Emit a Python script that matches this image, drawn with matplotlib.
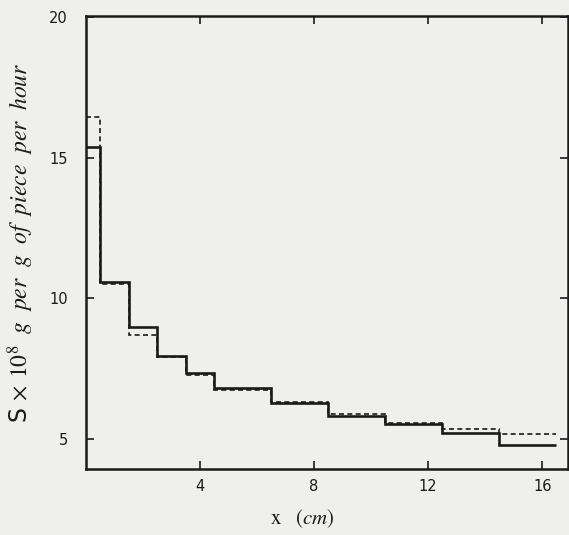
import matplotlib
matplotlib.use("Agg")
import matplotlib.pyplot as plt

# ==========================================================================
#  Data
# ==========================================================================

edges = [0, 0.5, 1.5, 2.5, 3.5, 4.5, 6.5, 8.5, 10.5, 12.5, 14.5, 16.5]
solid = [15.4, 10.6, 9.0, 7.95, 7.35, 6.8, 6.27, 5.83, 5.52, 5.22, 4.8]
dashed = [16.45, 10.5, 8.7, 7.9, 7.28, 6.73, 6.3, 5.88, 5.56, 5.35, 5.18]

xticks = [4, 8, 12, 16]
yticks = [5, 10, 15, 20]

plt.rcParams["mathtext.fontset"] = "stix"
plt.rcParams["font.family"] = ["DejaVu Sans"]

BG = "#efefed"
INK = "#1a1a1a"

fig = plt.figure(figsize=(5.69, 5.35), dpi=100, facecolor=BG)
ax = fig.add_axes([0.151, 0.1234, 0.847, 0.8466])
ax.set_facecolor(BG)

ax.stairs(solid, edges, color=INK, lw=1.9, baseline=None)
ax.stairs(dashed, edges, color=INK, lw=1.2, ls=(0, (3, 2)), baseline=None)

ax.set_xlim(0, 16.9)
ax.set_ylim(3.93, 20.05)
ax.set_xticks(xticks)
ax.set_yticks(yticks)

ax.tick_params(direction="in", length=6, width=1.2, top=True, right=True,
               labelsize=10.5, colors=INK)
ax.tick_params(axis="x", pad=7)
ax.tick_params(axis="y", pad=13)
for s in ax.spines.values():
    s.set_linewidth(1.8)
    s.set_color(INK)

ylab = (r"S $\times$ $\mathit{10^{8}\ \ g\ \ per\ \ g\ \ of\ \ piece\ \ per\ \ hour}$")
ax.set_ylabel(ylab, fontsize=17, color=INK)
ax.yaxis.set_label_coords(-0.104, 0.50)
ax.set_xlabel(r"$\mathrm{x}\quad\mathit{(cm)}$", fontsize=15, color=INK)
ax.xaxis.set_label_coords(0.45, -0.085)

fig.savefig("out.png", dpi=100, facecolor=BG)
